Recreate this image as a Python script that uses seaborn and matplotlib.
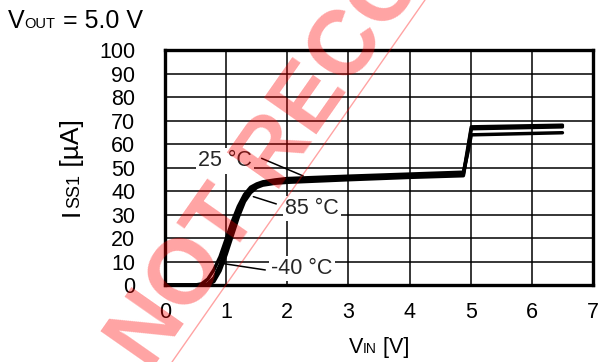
import numpy as np
import pandas as pd
import seaborn as sns
import matplotlib.pyplot as plt
from matplotlib.lines import Line2D

# data
vin = [0.0, 0.5, 0.6, 0.7, 0.8, 0.9, 1.0, 1.1, 1.2, 1.3, 1.4, 1.5, 1.6, 1.8, 2.0,
       3.0, 4.0, 4.88, 4.95, 5.01, 6.5]
iss_25 = [0, 0, 0, 0.5, 3, 8.5, 16, 24, 31, 37, 40.5, 42.3, 43.2, 44, 44.5,
          45.5, 46.5, 47.2, 58, 67.3, 68.0]
iss_m40 = [0, 0, 0, 0, 1.5, 6, 13, 21, 29, 35.5, 39.3, 41.5, 42.5, 43.3, 43.7,
           44.8, 45.8, 46.5, 57, 66.5, 67.3]
iss_85 = [0, 0, 0.5, 2.5, 6.5, 12, 19.5, 27, 33.5, 38.5, 41.6, 43.0, 43.9, 44.7, 45.3,
          46.3, 47.2, 48.0, 56, 63.9, 64.8]
temps = ['25 °C', '-40 °C', '85 °C']

xticks = list(range(0, 8))
yticks = list(range(0, 101, 10))

df = pd.concat([
    pd.DataFrame({'vin': vin, 'iss': iss_25, 'temp': temps[0]}),
    pd.DataFrame({'vin': vin, 'iss': iss_m40, 'temp': temps[1]}),
    pd.DataFrame({'vin': vin, 'iss': iss_85, 'temp': temps[2]}),
])

sns.set_theme(style='white')
plt.rcParams['font.family'] = ['Liberation Sans', 'DejaVu Sans']

W, H = 601, 362
fig = plt.figure(figsize=(W / 100, H / 100), dpi=100)
ax = fig.add_axes([165 / W, 1 - 285 / H, (593 - 165) / W, (285 - 50) / H])

sns.lineplot(data=df, x='vin', y='iss', hue='temp', units='temp', estimator=None,
             palette=['black'] * 3, linewidth=2.5, legend=False, ax=ax, zorder=3)

ax.set_xlim(0, 7)
ax.set_ylim(0, 100)
ax.set_xticks(xticks)
ax.set_yticks(yticks)
ax.set_xticklabels([str(v) for v in xticks], fontsize=15.5)
ax.set_yticklabels([str(v) for v in yticks], fontsize=15.5)
ax.tick_params(axis='y', length=0, pad=21.5, colors='black')
ax.tick_params(axis='x', length=0, pad=12.5, colors='black')
ax.grid(True, color='black', linewidth=1.1)
for sp in ax.spines.values():
    sp.set_visible(True)
    sp.set_color('black')
    sp.set_linewidth(2.4)
    sp.set_zorder(5)
ax.set_xlabel('')
ax.set_ylabel('')

# temperature labels with leader lines
labels = [('25 °C', 0.98, 52.8, (1.58, 53.9), (2.26, 46.4)),
          ('85 °C', 2.40, 32.6, (1.445, 37.6), (1.82, 34.5)),
          ('-40 °C', 2.24, 7.1, (0.93, 9.2), (1.64, 6.4))]
for txt, tx, ty, p0, p1 in labels:
    ax.plot([p0[0], p1[0]], [p0[1], p1[1]], color='black', lw=1.1, zorder=4)
    ax.text(tx, ty, txt, fontsize=15.5, ha='center', va='center', zorder=4,
            bbox=dict(facecolor='white', edgecolor='none', pad=1.5))

# mixed-size labels (small letters sit on the baseline)
renderer = fig.canvas.get_renderer()


def advance(s, size):
    a = fig.text(0, 0, '|' + s + '|', fontsize=size)
    b = fig.text(0, 0, '||', fontsize=size)
    w = a.get_window_extent(renderer).width - b.get_window_extent(renderer).width
    a.remove()
    b.remove()
    return w


def mixed_text(pieces, x, y, rot=0, center=False):
    widths = [advance(s, sz) for s, sz in pieces]
    start = (y if rot else x) - (sum(widths) / 2 if center else 0)
    pos = start
    for (s, sz), w in zip(pieces, widths):
        if rot:
            fig.text(x / W, pos / H, s, fontsize=sz, rotation=90, rotation_mode='anchor',
                     ha='left', va='baseline', color='black')
        else:
            fig.text(pos / W, y / H, s, fontsize=sz, ha='left', va='baseline', color='black')
        pos += w


mixed_text([('V', 18), ('OUT', 10.5), (' = 5.0 V', 18)], 8, H - 28)
mixed_text([('V', 15.5), ('IN', 10), (' [V]', 15.5)], 379, H - 353, center=True)
mixed_text([('I', 19), ('SS1', 13), (' [µA]', 19)], 79, H - 167.5, rot=90, center=True)

# watermark
wm_alpha = 0.36
fig.text(150 / W, 1 - 372 / H, 'NOT RECOMMENDED', fontsize=66, fontweight='bold',
         color='red', alpha=wm_alpha, rotation=55, rotation_mode='anchor',
         ha='left', va='baseline', zorder=10)
fig.add_artist(Line2D([172 / W, 425 / W], [0, 1], transform=fig.transFigure,
                      color='red', alpha=wm_alpha, lw=1.0, zorder=10))

fig.savefig('out.png', dpi=100)
